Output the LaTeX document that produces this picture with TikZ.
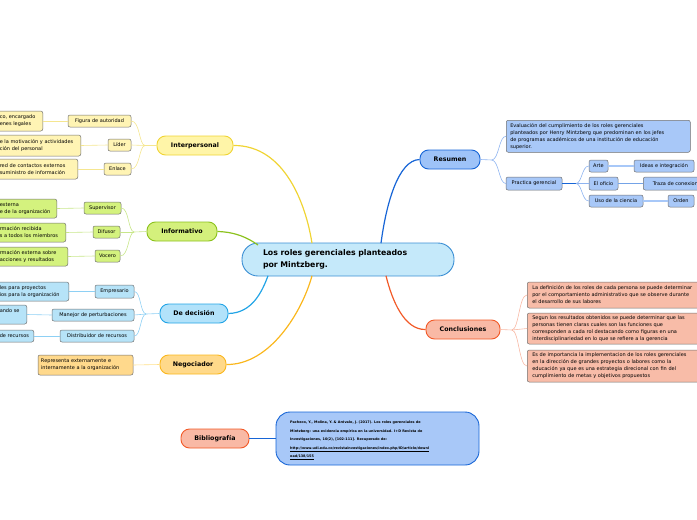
\documentclass[tikz,border=0pt]{standalone}
\usepackage{fontspec}
\setmainfont{DejaVu Sans}
\definecolor{cfill}{HTML}{C5E9FA}\definecolor{cline}{HTML}{3B8FD4}
\definecolor{yfill}{HTML}{FFF5A8}\definecolor{yline}{HTML}{F0D434}\definecolor{ysub}{HTML}{FFF4B4}\definecolor{ylink}{HTML}{F5E690}
\definecolor{gfill}{HTML}{D4F07C}\definecolor{gline}{HTML}{8CC21E}\definecolor{gsub}{HTML}{D4F27E}\definecolor{glink}{HTML}{C8E68A}
\definecolor{bfill}{HTML}{B2E2FA}\definecolor{bline}{HTML}{22A4E6}\definecolor{bsub}{HTML}{B6E3F8}\definecolor{blink}{HTML}{8ED0F4}
\definecolor{ofill}{HTML}{FFD98A}\definecolor{oline}{HTML}{FAB71E}\definecolor{osub}{HTML}{FFD98C}\definecolor{olink}{HTML}{FFE08A}
\definecolor{dfill}{HTML}{9EC3F8}\definecolor{dline}{HTML}{1765D6}\definecolor{dsub}{HTML}{A8C8F8}\definecolor{dlink}{HTML}{8FB4F0}
\definecolor{rfill}{HTML}{F9B9A5}\definecolor{rline}{HTML}{F25A28}\definecolor{rsub}{HTML}{F8BCA8}\definecolor{rlink}{HTML}{F8B8A4}
\definecolor{subdraw}{HTML}{707070}
\begin{document}
\begin{tikzpicture}[x=1pt,y=-1pt,
  ctr/.style={draw=cline,fill=cfill,line width=0.9pt,rounded corners=16pt,inner ysep=0pt,inner xsep=21pt,
    minimum height=33pt,text width=170pt,align=left,font=\fontsize{7.8}{12}\selectfont\bfseries},
  mainbox/.style={line width=0.9pt,rounded corners=8.5pt,inner sep=0pt,minimum height=19pt,font=\fontsize{6.3}{8}\selectfont\bfseries},
  sub/.style={draw=subdraw,line width=0.5pt,rounded corners=2pt,inner xsep=3pt,inner ysep=0pt,font=\fontsize{5}{7}\selectfont},
  concl/.style={sub,fill=rsub,anchor=west,text width=185pt,align=left,inner xsep=5pt},
  mlink/.style={line width=1.2pt},
  slink/.style={line width=0.6pt},
]
\useasboundingbox (0,0) rectangle (697,520);
\clip (0,0) rectangle (697,520);

% centre
\node[ctr] (c) at (348,259.5) {Los roles gerenciales planteados\\por Mintzberg.};

% main branches
\node[mainbox,draw=yline,fill=yfill,minimum width=76pt] (ip) at (195,145.5) {Interpersonal};
\node[mainbox,draw=gline,fill=gfill,minimum width=70pt] (inf) at (182,231.5) {Informativo};
\node[mainbox,draw=bline,fill=bfill,minimum width=68pt] (dd) at (194,313.5) {De decisión};
\node[mainbox,draw=oline,fill=ofill,minimum width=66pt] (ng) at (193,364.5) {Negociador};
\node[mainbox,draw=dline,fill=dfill,minimum width=60pt] (rs) at (450,159.5) {Resumen};
\node[mainbox,draw=rline,fill=rfill,minimum width=74pt] (cc) at (463,329.5) {Conclusiones};
\node[mainbox,draw=rline,fill=rfill,minimum width=68pt] (bib) at (215,438.5) {Bibliografía};

\coordinate (cY) at (312,243.2);
\coordinate (cG) at (258,245);
\coordinate (cB) at (268,275.8);
\coordinate (cO) at (312,275.8);
\coordinate (cD) at (381,243.2);
\coordinate (cR) at (386,275.8);
\draw[mlink,yline] (ip.east) .. controls (285,145) and (306,205) .. (cY);
\draw[mlink,gline] (inf.east) .. controls (236,232) and (248,238) .. (cG);
\draw[mlink,bline] (dd.east) .. controls (252,313) and (262,292) .. (cB);
\draw[mlink,oline] (ng.east) .. controls (270,365) and (302,312) .. (cO);
\draw[mlink,dline] (rs.west) .. controls (398,160) and (386,205) .. (cD);
\draw[mlink,rline] (cc.west) .. controls (404,330) and (392,300) .. (cR);

% bibliography box
\node[draw=dline,fill=dsub,line width=0.9pt,rounded corners=14pt,minimum width=203pt,minimum height=53pt,inner sep=0pt] (bb) at (377.5,438.5) {};
\node[anchor=west,align=left,inner sep=0pt,font=\fontsize{3.4}{8.5}\selectfont\bfseries] (bbt) at (290,440.5)
{Pacheco, Y., Molina, Y. \& Arévalo, J. (2017). Los roles gerenciales de\\
Mintzberg: una evidencia empírica en la universidad. I+D Revista de\\
Investigaciones, 10(2), [102-111]. Recuperado de:\\
\underline{http://www.udi.edu.co/revistainvestigaciones/index.php/ID/article/downl}\\
\underline{oad/138/155}};
\draw[line width=1pt,dline] (bib.east) -- (bb.west);

% Interpersonal children
\node[sub,fill=ysub,minimum width=63pt,minimum height=12pt] (fa) at (99.5,121) {Figura de autoridad};
\node[sub,fill=ysub,minimum width=23pt,minimum height=12pt] (li) at (119.5,145) {Líder};
\node[sub,fill=ysub,minimum width=27pt,minimum height=12pt] (en) at (117.5,169) {Enlace};
\node[sub,fill=ysub,anchor=east,minimum height=20pt,text width=40pt,align=left] (fa1) at (43,121) {co, encargado\\enes legales};
\node[sub,fill=ysub,anchor=east,minimum height=21pt,text width=78pt,align=left] (li1) at (81,145.5) {e la motivación y actividades\\ción del personal};
\node[sub,fill=ysub,anchor=east,minimum height=20pt,text width=75pt,align=left] (en1) at (78,169) {red de contactos externos\\ suministro de información};
\coordinate (fy) at (145,145.5);
\draw[slink,ylink] (ip.west) -- (fy);
\draw[slink,ylink] (fy) .. controls (139,145) and (140,121) .. (fa.east);
\draw[slink,ylink] (fy) -- (li.east);
\draw[slink,ylink] (fy) .. controls (139,146) and (140,169) .. (en.east);
\draw[slink,ylink] (fa.west) -- (fa1.east);
\draw[slink,ylink] (li.west) -- (li1.east);
\draw[slink,ylink] (en.west) -- (en1.east);

% Informativo children
\node[sub,fill=gsub,minimum width=37pt,minimum height=12pt] (su) at (102.5,208) {Supervisor};
\node[sub,fill=gsub,minimum width=27pt,minimum height=12pt] (di) at (106.5,232) {Difusor};
\node[sub,fill=gsub,minimum width=25pt,minimum height=12pt] (vo) at (107.5,256) {Vocero};
\node[sub,fill=gsub,anchor=east,minimum height=19pt,text width=54pt,align=left] (su1) at (57,208.5) {externa\\e de la organización};
\node[sub,fill=gsub,anchor=east,minimum height=19pt,text width=63pt,align=left] (di1) at (66,232.5) {rmación recibida\\s a todos los miembros};
\node[sub,fill=gsub,anchor=east,minimum height=19pt,text width=65pt,align=left] (vo1) at (68,256.5) {rmación externa sobre\\acciones y resultados};
\coordinate (fg) at (134,232);
\draw[slink,glink] (inf.west) -- (fg);
\draw[slink,glink] (fg) .. controls (128,231) and (129,208) .. (su.east);
\draw[slink,glink] (fg) -- (di.east);
\draw[slink,glink] (fg) .. controls (128,233) and (129,256) .. (vo.east);
\draw[slink,glink] (su.west) -- (su1.east);
\draw[slink,glink] (di.west) -- (di1.east);
\draw[slink,glink] (vo.west) -- (vo1.east);

% De decision children
\node[sub,fill=bsub,minimum width=39pt,minimum height=13pt] (em) at (114.5,291.5) {Empresario};
\node[sub,fill=bsub,minimum width=82pt,minimum height=12pt] (ma) at (93,315) {Manejor de perturbaciones};
\node[sub,fill=bsub,minimum width=74pt,minimum height=12pt] (dr) at (97,336) {Distribuidor de recursos};
\node[sub,fill=bsub,anchor=east,minimum height=19pt,text width=66pt,align=left] (em1) at (69,291.5) {les para proyectos\\ios para la organización};
\node[sub,fill=bsub,anchor=east,minimum height=19pt,text width=24pt,align=left] (ma1) at (27,314.5) {ando se\\\mbox{}};
\node[sub,fill=bsub,anchor=east,minimum height=12pt,text width=31pt,align=left] (dr1) at (34,336) {de recursos};
\coordinate (fb) at (146,314);
\draw[slink,blink] (dd.west) -- (fb);
\draw[slink,blink] (fb) .. controls (140,313) and (141,291.5) .. (em.east);
\draw[slink,blink] (fb) -- (ma.east);
\draw[slink,blink] (fb) .. controls (140,315) and (141,336) .. (dr.east);
\draw[slink,blink] (em.west) -- (em1.east);
\draw[slink,blink] (ma.west) -- (ma1.east);
\draw[slink,blink] (dr.west) -- (dr1.east);

% Negociador child
\node[sub,fill=osub,minimum width=95pt,minimum height=20pt,text width=89pt,align=left] (ne) at (85.5,365) {Representa externamente e\\internamente a la organización};
\draw[slink,olink] (ng.west) -- (ne.east);

% Resumen children
\node[sub,fill=dsub,anchor=north west,minimum width=184pt,minimum height=32pt,text width=176pt,align=left,inner xsep=4pt] (ev) at (506,120)
{Evaluación del cumplimiento de los roles gerenciales\\planteados por Henry Mintzberg que predominan en los jefes\\de programas académicos de una institución de educación\\superior.};
\node[sub,fill=dsub,minimum width=56pt,minimum height=13pt] (pg) at (534,183.5) {Practica gerencial};
\node[sub,fill=dsub,minimum width=19pt,minimum height=12pt] (ar) at (598.5,166) {Arte};
\node[sub,fill=dsub,minimum width=29pt,minimum height=13pt] (eo) at (603.5,183.5) {El oficio};
\node[sub,fill=dsub,minimum width=54pt,minimum height=12pt] (uc) at (616,201) {Uso de la ciencia};
\node[sub,fill=dsub,minimum width=60pt,minimum height=12pt] (ii) at (664,166) {Ideas e integración};
\node[sub,fill=dsub,anchor=west,minimum width=70pt,minimum height=13pt,align=left] (tc) at (643,183.5) {Traza de conexiones};
\node[sub,fill=dsub,minimum width=26pt,minimum height=12pt] (od) at (681,201) {Orden};
\coordinate (fd) at (492,160);
\draw[slink,dlink] (rs.east) -- (fd);
\draw[slink,dlink] (fd) .. controls (499,159) and (499,136) .. (ev.west);
\draw[slink,dlink] (fd) .. controls (499,161) and (499,183.5) .. (pg.west);
\coordinate (fp) at (576,183.5);
\draw[line width=0.8pt,dline] (pg.east) -- (fp);
\draw[slink,dlink] (fp) .. controls (582,183) and (582,166) .. (ar.west);
\draw[slink,dlink] (fp) -- (eo.west);
\draw[slink,dlink] (fp) .. controls (582,184) and (582,201) .. (uc.west);
\draw[line width=1.6pt,dsub] (ar.east) -- (ii.west);
\draw[line width=0.9pt,dline!60] (eo.east) -- (tc.west);
\draw[line width=1.6pt,dsub] (uc.east) -- (od.west);

% Conclusiones children
\node[concl,minimum height=26pt] (k1) at (527,295)
{La definición de los roles de cada persona se puede determinar\\por el comportamiento administrativo que se observe durante\\el desarrollo de sus labores};
\node[concl,minimum height=31pt] (k2) at (527,328.5)
{Segun los resultados obtenidos se puede determinar que las\\personas tienen claras cuales son las funciones que\\corresponden a cada rol destacando como figuras en una\\interdisciplinariedad en lo que se refiere a la gerencia};
\node[concl,minimum height=32pt] (k3) at (527,366)
{Es de importancia la implementacion de los roles gerenciales\\en la dirección de grandes proyectos o labores como la\\educación ya que es una estrategia direcional con fin del\\cumplimiento de metas y objetivos propuestos};
\coordinate (fr) at (512,330);
\draw[slink,rlink] (cc.east) -- (fr);
\draw[slink,rlink] (fr) .. controls (519,329) and (519,295) .. (k1.west);
\draw[slink,rlink] (fr) -- (k2.west);
\draw[slink,rlink] (fr) .. controls (519,331) and (519,366) .. (k3.west);
\end{tikzpicture}
\end{document}
